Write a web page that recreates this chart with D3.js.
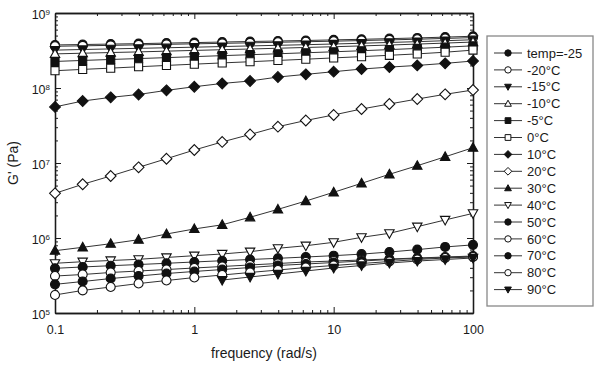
<!DOCTYPE html>
<html>
<head>
<meta charset="utf-8">
<script src="https://cdn.jsdelivr.net/npm/d3@7"></script>
<style>
body { margin:0; background:#fff; }
text { font-family: "Liberation Sans", Arial, Helvetica, sans-serif; fill:#1a1a1a; }
</style>
</head>
<body>
<div id="chart"></div>
<script>
// Data

var freq = [0.1, 0.158, 0.251, 0.398, 0.631, 1, 1.585, 2.512, 3.981, 6.31, 10, 15.85, 25.12, 39.81, 63.1, 100];

var labels = ["temp=-25","-20°C","-15°C","-10°C","-5°C","0°C","10°C","20°C","30°C","40°C","50°C","60°C","70°C","80°C","90°C"];

var shapes = ["circle","circle","down","up","square","square","diamond","diamond","up","down","circle","circle","circle","circle","down"];
var filled = [true,false,true,false,true,false,true,false,true,false,true,false,true,false,true];

var g_m25 = [3.75e8,3.8e8,3.85e8,3.9e8,3.97e8,4.03e8,4.1e8,4.17e8,4.23e8,4.3e8,4.38e8,4.46e8,4.55e8,4.65e8,4.77e8,4.9e8];
var g_m20 = [3.6e8,3.65e8,3.7e8,3.76e8,3.82e8,3.88e8,3.94e8,4.0e8,4.07e8,4.14e8,4.21e8,4.29e8,4.38e8,4.47e8,4.58e8,4.7e8];
var g_m15 = [3.2e8,3.26e8,3.32e8,3.38e8,3.44e8,3.5e8,3.57e8,3.64e8,3.71e8,3.78e8,3.86e8,3.95e8,4.05e8,4.15e8,4.27e8,4.4e8];
var g_m10 = [2.85e8,2.91e8,2.97e8,3.03e8,3.1e8,3.17e8,3.24e8,3.31e8,3.39e8,3.47e8,3.55e8,3.64e8,3.74e8,3.85e8,3.97e8,4.1e8];
var g_m5  = [2.26e8,2.33e8,2.4e8,2.47e8,2.54e8,2.62e8,2.7e8,2.78e8,2.86e8,2.95e8,3.04e8,3.14e8,3.25e8,3.37e8,3.5e8,3.65e8];
var g_0   = [1.7e8,1.77e8,1.84e8,1.92e8,2.0e8,2.08e8,2.16e8,2.24e8,2.33e8,2.42e8,2.52e8,2.62e8,2.73e8,2.85e8,3.0e8,3.2e8];
var g_10  = [5.6e7,6.7e7,7.5e7,8.2e7,9.3e7,1.04e8,1.15e8,1.24e8,1.4e8,1.52e8,1.65e8,1.79e8,1.9e8,2.0e8,2.13e8,2.29e8];
var g_20  = [3.94e6,5.2e6,6.71e6,8.76e6,1.14e7,1.49e7,1.91e7,2.4e7,3.05e7,3.69e7,4.37e7,5.25e7,6.12e7,7.13e7,8.24e7,9.4e7];
var g_30  = [6.77e5,7.52e5,8.39e5,9.49e5,1.13e6,1.32e6,1.5e6,1.89e6,2.41e6,3.11e6,4.07e6,5.36e6,7.07e6,9.2e6,1.21e7,1.6e7];
var g_40  = [4.6e5,4.83e5,5.01e5,5.2e5,5.5e5,5.81e5,6.12e5,6.57e5,7.29e5,7.89e5,8.76e5,1.02e6,1.155e6,1.415e6,1.74e6,2.13e6];
var g_50  = [3.94e5,4.11e5,4.27e5,4.43e5,4.6e5,4.79e5,4.98e5,5.17e5,5.36e5,5.58e5,5.81e5,6.1e5,6.5e5,7.0e5,7.6e5,8.1e5];
var g_60  = [3.11e5,3.26e5,3.47e5,3.63e5,3.8e5,3.98e5,4.17e5,4.37e5,4.57e5,4.79e5,4.93e5,5.09e5,5.25e5,5.41e5,5.58e5,5.75e5];
var g_70  = [2.41e5,2.63e5,2.88e5,3.11e5,3.36e5,3.58e5,3.8e5,4.04e5,4.3e5,4.5e5,4.71e5,4.93e5,5.17e5,5.33e5,5.5e5,5.66e5];
var g_80  = [1.74e5,2.0e5,2.22e5,2.47e5,2.71e5,2.97e5,3.21e5,3.47e5,3.74e5,4.04e5,4.3e5,4.57e5,4.86e5,5.17e5,5.41e5,5.58e5];
var g_90  = [null,null,null,null,null,null,2.75e5,3.02e5,3.31e5,3.63e5,3.98e5,4.3e5,4.64e5,4.93e5,5.17e5,5.41e5];

var series = [g_m25,g_m20,g_m15,g_m10,g_m5,g_0,g_10,g_20,g_30,g_40,g_50,g_60,g_70,g_80,g_90];

var xMajor = [0.1, 1, 10, 100];
var yMajor = [1e5, 1e6, 1e7, 1e8, 1e9];

// Layout

var W = 600, H = 372;
var L = 55, R = 473, T = 13, B = 313;

var svg = d3.select("#chart").append("svg").attr("width",W).attr("height",H);

var x = d3.scaleLog().domain([0.1,100]).range([L,R]);
var y = d3.scaleLog().domain([1e5,1e9]).range([B,T]);

var xMinor = x.ticks().filter(function(d){ return xMajor.indexOf(d) < 0 && Math.abs(Math.log10(d)%1) > 1e-6; });
var yMinor = y.ticks().filter(function(d){ return yMajor.indexOf(d) < 0 && Math.abs(Math.log10(d)%1) > 1e-6; });

function styleAxis(g){
	g.selectAll("path").style("stroke","#1a1a1a").style("stroke-width",1.3);
	g.selectAll("line").style("stroke","#1a1a1a").style("stroke-width",1);
}

// bottom
svg.append("g").attr("transform","translate(0,"+B+")")
	.call(d3.axisBottom(x).tickValues(xMajor).tickSize(-6).tickSizeOuter(0).tickPadding(12)
		.tickFormat(function(d){ return d3.format("~g")(d); }))
	.call(styleAxis)
	.call(function(g){ g.selectAll("text").style("font-size","12.5px").style("fill","#1a1a1a"); });
svg.append("g").attr("transform","translate(0,"+B+")")
	.call(d3.axisBottom(x).tickValues(xMinor).tickSize(-3).tickSizeOuter(0).tickFormat(""))
	.call(styleAxis);
// top
svg.append("g").attr("transform","translate(0,"+T+")")
	.call(d3.axisTop(x).tickValues(xMajor).tickSize(-6).tickSizeOuter(0).tickFormat(""))
	.call(styleAxis);
svg.append("g").attr("transform","translate(0,"+T+")")
	.call(d3.axisTop(x).tickValues(xMinor).tickSize(-3).tickSizeOuter(0).tickFormat(""))
	.call(styleAxis);
// left
var yl = svg.append("g").attr("transform","translate("+L+",0)")
	.call(d3.axisLeft(y).tickValues(yMajor).tickSize(-6).tickSizeOuter(0).tickPadding(5).tickFormat(""))
	.call(styleAxis);
yl.selectAll(".tick text").each(function(d){
	var t = d3.select(this).attr("dy","0.45em").style("font-size","12.5px").style("fill","#1a1a1a");
	t.append("tspan").text("10");
	t.append("tspan").attr("dy","-0.55em").style("font-size","8px").text(Math.round(Math.log10(d)));
});
svg.append("g").attr("transform","translate("+L+",0)")
	.call(d3.axisLeft(y).tickValues(yMinor).tickSize(-3).tickSizeOuter(0).tickFormat(""))
	.call(styleAxis);
// right
svg.append("g").attr("transform","translate("+R+",0)")
	.call(d3.axisRight(y).tickValues(yMajor).tickSize(-6).tickSizeOuter(0).tickFormat(""))
	.call(styleAxis);
svg.append("g").attr("transform","translate("+R+",0)")
	.call(d3.axisRight(y).tickValues(yMinor).tickSize(-3).tickSizeOuter(0).tickFormat(""))
	.call(styleAxis);

// axis titles
svg.append("text").attr("x",(L+R)/2).attr("y",358).attr("text-anchor","middle")
	.style("font-size","14px").text("frequency (rad/s)");
svg.append("text").attr("transform","translate(18,"+((T+B)/2)+")rotate(-90)").attr("text-anchor","middle")
	.style("font-size","14px").text("G' (Pa)");

// markers

function markerPath(type, s){
	if (type=="circle") return d3.symbol().type(d3.symbolCircle).size(Math.PI*s*s)();
	if (type=="square") { var q=s*0.9; return "M"+(-q)+","+(-q)+"h"+(2*q)+"v"+(2*q)+"h"+(-2*q)+"Z"; }
	if (type=="diamond") { var q=s*1.2; return "M0,"+(-q)+"L"+q+",0L0,"+q+"L"+(-q)+",0Z"; }
	if (type=="up") return "M0,"+(-s*1.1)+"L"+(s*1.05)+","+(s*0.8)+"L"+(-s*1.05)+","+(s*0.8)+"Z";
	if (type=="down") return "M0,"+(s*1.1)+"L"+(s*1.05)+","+(-s*0.8)+"L"+(-s*1.05)+","+(-s*0.8)+"Z";
}

var line = d3.line()
	.defined(function(d){ return d[1] != null; })
	.x(function(d){ return x(d[0]); })
	.y(function(d){ return y(d[1]); });

var plot = svg.append("g");

series.forEach(function(vals,i){
	var pts = freq.map(function(f,k){ return [f, vals[k]]; });
	plot.append("path").datum(pts).attr("d",line)
		.style("fill","none").style("stroke","#333").style("stroke-width",1);
	plot.selectAll(".m"+i).data(pts.filter(function(p){ return p[1]!=null; })).enter().append("path")
		.attr("class","m"+i)
		.attr("transform",function(d){ return "translate("+x(d[0])+","+y(d[1])+")"; })
		.attr("d",markerPath(shapes[i],4.5))
		.style("fill",filled[i] ? "#111" : "#fff").style("stroke","#111").style("stroke-width",1.1);
});

// legend

var lx = 487, ly = 36, lw = 106, lh = 270;
svg.append("rect").attr("x",lx).attr("y",ly).attr("width",lw).attr("height",lh)
	.style("fill","#fff").style("stroke","#888").style("stroke-width",1.3);

var leg = svg.selectAll(".leg").data(labels).enter().append("g")
	.attr("class","leg")
	.attr("transform",function(d,i){ return "translate(0,"+(53+i*16.9)+")"; });

leg.append("line").attr("x1",494).attr("x2",522).attr("y1",0).attr("y2",0)
	.style("stroke","#333").style("stroke-width",1);
leg.append("path").attr("transform","translate(508,0)")
	.attr("d",function(d,i){ return markerPath(shapes[i],3.2); })
	.style("fill",function(d,i){ return filled[i] ? "#111" : "#fff"; })
	.style("stroke","#111").style("stroke-width",1);
leg.append("text").attr("x",527).attr("y",0).attr("dy","0.36em")
	.style("font-size","13px").text(function(d){ return d; });
</script>
</body>
</html>
